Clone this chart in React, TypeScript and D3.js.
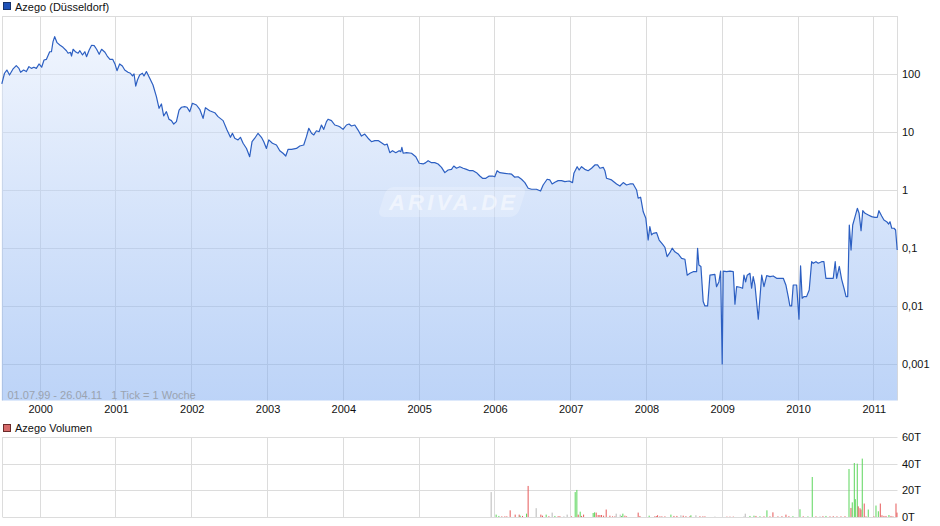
import React from "react";
import * as d3 from "d3";

// ---- DATA ----
// weekly closing prices (decimal year, price in EUR)
const priceSeries: [number, number][] = [
  [1999.5, 67.3], [1999.536, 103], [1999.567, 117], [1999.602, 96], [1999.646, 121], [1999.691, 139],
  [1999.726, 125], [1999.748, 107], [1999.788, 117], [1999.824, 110], [1999.858, 134], [1999.89, 125],
  [1999.924, 131], [1999.956, 125], [1999.991, 149], [2000.026, 131], [2000.057, 174], [2000.089, 179],
  [2000.132, 242], [2000.155, 242], [2000.176, 361], [2000.198, 440], [2000.229, 347], [2000.265, 316],
  [2000.308, 288], [2000.353, 252], [2000.375, 228], [2000.406, 237], [2000.42, 204], [2000.441, 267],
  [2000.477, 239], [2000.507, 228], [2000.53, 252], [2000.565, 213], [2000.596, 242], [2000.618, 199],
  [2000.653, 259], [2000.685, 313], [2000.719, 308], [2000.751, 267], [2000.785, 219], [2000.817, 267],
  [2000.861, 237], [2000.891, 204], [2000.927, 179], [2000.963, 179], [2000.993, 149],
  [2001.02, 114], [2001.055, 149], [2001.091, 137], [2001.122, 117], [2001.165, 107], [2001.197, 103],
  [2001.224, 92.5], [2001.245, 100], [2001.267, 62], [2001.29, 78.8], [2001.319, 96], [2001.355, 103],
  [2001.376, 92.5], [2001.408, 110], [2001.442, 89.8], [2001.452, 84.3], [2001.495, 64.6], [2001.54, 40.6],
  [2001.575, 25.6], [2001.606, 30.4], [2001.636, 18.9], [2001.672, 22.4], [2001.706, 16.6], [2001.738, 15.7],
  [2001.769, 13.7], [2001.804, 15.1], [2001.839, 23.9], [2001.871, 26.7], [2001.913, 27.3], [2001.944, 26.7],
  [2001.98, 22.4],
  [2002.015, 31.3], [2002.068, 29.2], [2002.112, 24.6], [2002.156, 17.2], [2002.187, 26.2], [2002.243, 23.3],
  [2002.31, 21.5], [2002.353, 18.4], [2002.42, 15.7], [2002.472, 10.8], [2002.517, 8.1], [2002.543, 9.5],
  [2002.574, 7.8], [2002.617, 7.3], [2002.649, 8.1], [2002.684, 6.4], [2002.729, 5.2], [2002.771, 3.75],
  [2002.802, 6.8], [2002.838, 7.8], [2002.881, 9.5], [2002.926, 8.1], [2002.957, 6.8], [2002.992, 5.2],
  [2003.023, 7.3], [2003.071, 6.4], [2003.124, 5.97], [2003.168, 4.76], [2003.211, 4.3], [2003.247, 3.85],
  [2003.278, 5.03], [2003.323, 5.03], [2003.388, 5.2], [2003.432, 5.74], [2003.484, 5.97], [2003.52, 8.3],
  [2003.551, 11.6], [2003.587, 9.5], [2003.617, 8.9], [2003.652, 10.5], [2003.686, 10.1], [2003.718, 13.2],
  [2003.748, 11.1], [2003.784, 15.1], [2003.805, 16.6], [2003.85, 15.7], [2003.894, 13.2], [2003.937, 12.7],
  [2003.959, 12.3],
  [2004.003, 11.1], [2004.048, 13.2], [2004.082, 13.7], [2004.114, 12.7], [2004.158, 13.2], [2004.201, 10.8],
  [2004.246, 8.5], [2004.289, 9.2], [2004.333, 7.8], [2004.378, 6.8], [2004.422, 7.1], [2004.466, 7.1],
  [2004.51, 6.5], [2004.553, 5.97], [2004.584, 6.2], [2004.62, 4.4], [2004.655, 4.76], [2004.699, 4.4],
  [2004.743, 4.76], [2004.765, 4.57], [2004.779, 5.45], [2004.796, 4.3], [2004.84, 4.4], [2004.906, 4.3],
  [2004.963, 3.75],
  [2005.007, 2.89], [2005.06, 2.81], [2005.094, 2.96], [2005.125, 3.2], [2005.17, 2.96], [2005.213, 2.96],
  [2005.257, 2.81], [2005.302, 2.46], [2005.346, 1.99], [2005.389, 2.21], [2005.434, 2.27], [2005.464, 2.59],
  [2005.5, 2.37], [2005.544, 2.52], [2005.588, 2.37], [2005.632, 2.27], [2005.675, 2.15], [2005.719, 2.15],
  [2005.764, 1.99], [2005.808, 1.74], [2005.843, 1.59], [2005.887, 1.59], [2005.931, 1.74], [2005.975, 1.74],
  [2006.005, 1.69], [2006.036, 2.15], [2006.072, 1.99], [2006.138, 1.94], [2006.227, 1.87], [2006.269, 1.66],
  [2006.313, 1.69], [2006.358, 1.53], [2006.402, 1.34], [2006.446, 1.07], [2006.49, 1.03], [2006.555, 1.03],
  [2006.609, 0.96], [2006.643, 1.22], [2006.696, 1.53], [2006.732, 1.49], [2006.762, 1.27], [2006.798, 1.36],
  [2006.841, 1.45], [2006.886, 1.45], [2006.93, 1.39], [2006.986, 1.43],
  [2007.031, 1.34], [2007.049, 1.94], [2007.092, 2.52], [2007.118, 2.21], [2007.15, 2.52], [2007.193, 2.27],
  [2007.237, 2.15], [2007.282, 2.37], [2007.326, 2.7], [2007.361, 2.7], [2007.392, 2.37], [2007.436, 2.46],
  [2007.458, 2.15], [2007.48, 1.59], [2007.546, 1.49], [2007.612, 1.27], [2007.656, 1.17], [2007.7, 1.34],
  [2007.744, 1.22], [2007.787, 1.27], [2007.831, 1.27], [2007.876, 1.0], [2007.897, 0.72], [2007.929, 0.75],
  [2007.964, 0.42], [2007.998, 0.325],
  [2008.029, 0.137], [2008.051, 0.233], [2008.074, 0.168], [2008.095, 0.179], [2008.14, 0.184], [2008.174, 0.137],
  [2008.218, 0.117], [2008.249, 0.103], [2008.279, 0.071], [2008.315, 0.083], [2008.346, 0.099], [2008.381, 0.086],
  [2008.425, 0.079], [2008.47, 0.066], [2008.514, 0.064], [2008.544, 0.034], [2008.58, 0.0366], [2008.623, 0.039],
  [2008.668, 0.039], [2008.681, 0.099], [2008.698, 0.051], [2008.725, 0.048], [2008.755, 0.0119], [2008.778, 0.01],
  [2008.813, 0.01], [2008.844, 0.034], [2008.909, 0.035], [2008.931, 0.0215], [2008.962, 0.026], [2008.985, 0.04],
  [2009.006, 0.001], [2009.019, 0.04], [2009.064, 0.039], [2009.108, 0.04], [2009.152, 0.039], [2009.174, 0.0107],
  [2009.196, 0.0215], [2009.239, 0.021], [2009.275, 0.0202], [2009.293, 0.034], [2009.315, 0.026], [2009.336, 0.034],
  [2009.372, 0.0366], [2009.394, 0.0202], [2009.415, 0.032], [2009.438, 0.023], [2009.482, 0.0059], [2009.527, 0.034],
  [2009.557, 0.0215], [2009.593, 0.0333], [2009.636, 0.032], [2009.679, 0.0329], [2009.724, 0.03], [2009.812, 0.03],
  [2009.846, 0.023], [2009.877, 0.0145], [2009.899, 0.01], [2009.922, 0.01], [2009.943, 0.023], [2009.988, 0.023],
  [2010.019, 0.0059], [2010.04, 0.049], [2010.061, 0.0136], [2010.084, 0.0145], [2010.119, 0.0145], [2010.154, 0.0189],
  [2010.186, 0.058], [2010.207, 0.0545], [2010.243, 0.058], [2010.273, 0.0545], [2010.318, 0.058], [2010.348, 0.058],
  [2010.374, 0.03], [2010.427, 0.03], [2010.471, 0.03], [2010.497, 0.058], [2010.516, 0.03], [2010.551, 0.048],
  [2010.582, 0.0288], [2010.613, 0.0202], [2010.64, 0.0145], [2010.662, 0.0145], [2010.683, 0.249], [2010.706, 0.092],
  [2010.728, 0.249], [2010.759, 0.347], [2010.789, 0.483], [2010.812, 0.396], [2010.838, 0.199], [2010.861, 0.44],
  [2010.891, 0.396], [2010.934, 0.371], [2010.978, 0.347],
  [2011.021, 0.338], [2011.052, 0.338], [2011.074, 0.44], [2011.11, 0.356], [2011.14, 0.304], [2011.176, 0.284],
  [2011.202, 0.259], [2011.22, 0.284], [2011.243, 0.219], [2011.273, 0.219], [2011.294, 0.204], [2011.315, 0.092],
];

// weekly volume (decimal year, volume in thousands, direction u=up d=down n=unchanged)
const volumeSeries: [number, number, string][] = [
  [2005.957, 18.7, "n"], [2006.023, 1.8, "u"], [2006.059, 0.8, "u"], [2006.098, 0.5, "d"], [2006.138, 0.5, "d"],
  [2006.164, 0.5, "d"], [2006.208, 5, "d"], [2006.274, 1.8, "d"], [2006.327, 1.8, "d"], [2006.34, 1, "u"],
  [2006.371, 0.8, "d"], [2006.424, 2.5, "u"], [2006.445, 23.3, "d"], [2006.551, 6.6, "n"], [2006.613, 1.8, "d"],
  [2006.635, 1, "d"], [2006.683, 1.8, "u"], [2006.719, 0.6, "d"], [2006.762, 3.3, "n"], [2006.798, 0.8, "u"],
  [2006.841, 0.6, "d"], [2006.864, 0.6, "d"], [2006.917, 0.5, "n"], [2006.96, 1.8, "n"], [2007.018, 0.5, "d"],
  [2007.066, 18.7, "u"], [2007.088, 20.3, "u"], [2007.106, 1.8, "d"], [2007.132, 4, "u"], [2007.15, 0.8, "d"],
  [2007.177, 1.8, "d"], [2007.303, 3, "u"], [2007.322, 3.5, "u"], [2007.343, 3.3, "d"], [2007.369, 1.5, "d"],
  [2007.392, 1.5, "d"], [2007.414, 1.5, "d"], [2007.441, 1, "d"], [2007.475, 5.6, "d"], [2007.524, 1, "d"],
  [2007.559, 0.5, "d"], [2007.59, 0.5, "d"], [2007.607, 2.5, "n"], [2007.66, 1.8, "n"], [2007.678, 0.8, "u"],
  [2007.695, 2.5, "u"], [2007.722, 1, "d"], [2007.744, 0.5, "d"], [2007.897, 3.3, "d"], [2007.92, 0.8, "d"],
  [2008.042, 1, "u"], [2008.118, 0.6, "d"], [2008.14, 0.6, "d"], [2008.153, 1.3, "d"], [2008.184, 0.5, "d"],
  [2008.21, 0.5, "d"], [2008.25, 0.5, "d"], [2008.329, 1.8, "u"], [2008.369, 0.8, "d"], [2008.408, 0.8, "d"],
  [2008.461, 1.3, "n"], [2008.491, 1, "d"], [2008.527, 0.6, "d"], [2008.58, 0.6, "d"], [2008.593, 1.3, "u"],
  [2008.659, 1.3, "n"], [2008.712, 0.6, "d"], [2008.751, 0.5, "d"], [2008.778, 0.5, "d"], [2008.91, 0.3, "n"],
  [2009.068, 0.3, "d"], [2009.108, 0.3, "d"], [2009.152, 0.3, "d"], [2009.293, 0.4, "n"], [2009.31, 2.5, "n"],
  [2009.372, 0.8, "u"], [2009.425, 1, "u"], [2009.451, 0.8, "d"], [2009.504, 0.6, "u"], [2009.557, 0.5, "d"],
  [2009.596, 5, "u"], [2009.636, 0.5, "d"], [2009.675, 3.5, "d"], [2009.741, 0.5, "d"], [2009.794, 0.6, "d"],
  [2009.847, 1.8, "d"], [2009.886, 0.6, "d"], [2009.939, 0.6, "u"], [2010.032, 5.8, "u"], [2010.075, 0.5, "d"],
  [2010.137, 0.5, "u"], [2010.194, 30, "u"], [2010.243, 0.5, "d"], [2010.296, 0.5, "n"], [2010.335, 0.6, "d"],
  [2010.375, 0.8, "u"], [2010.428, 0.5, "d"], [2010.471, 0.6, "d"], [2010.52, 0.5, "d"], [2010.573, 0.5, "d"],
  [2010.626, 0.6, "d"], [2010.679, 36, "u"], [2010.705, 6.8, "d"], [2010.722, 11, "u"], [2010.749, 40.5, "u"],
  [2010.762, 13.4, "u"], [2010.788, 40, "u"], [2010.801, 8, "d"], [2010.824, 6.6, "d"], [2010.837, 5.6, "d"],
  [2010.854, 43.8, "u"], [2010.88, 10.1, "d"], [2010.903, 0.5, "d"], [2010.933, 5.6, "u"], [2011.008, 0.5, "d"],
  [2011.035, 8.6, "u"], [2011.066, 4.3, "u"], [2011.092, 10.1, "d"], [2011.114, 1.3, "d"], [2011.14, 0.8, "d"],
  [2011.167, 0.8, "d"], [2011.206, 1.5, "u"], [2011.233, 0.8, "d"], [2011.259, 0.5, "d"], [2011.299, 10.1, "d"],
  [2011.312, 3.3, "d"],
];

const yearTicks = [2000, 2001, 2002, 2003, 2004, 2005, 2006, 2007, 2008, 2009, 2010, 2011];
const priceTicks = [100, 10, 1, 0.1, 0.01, 0.001];
const priceTickLabels = ["100", "10", "1", "0,1", "0,01", "0,001"];
const volumeTicks = [60, 40, 20, 0];
const volumeTickLabels = ["60T", "40T", "20T", "0T"];
const dateRange: [number, number] = [1999.5, 2011.315];

const FONT = "'Liberation Sans', Arial, sans-serif";

export default function App() {
  const W = 940, H = 526;
  const left = 2.5, right = 897.5;
  const mTop = 16, mBottom = 400.5;
  const vTop = 437, vBottom = 517;

  const x = d3.scaleLinear().domain(dateRange).range([1.8, 897.2]);
  const y = d3.scaleLog().domain([Math.pow(10, -3.63), 1000]).range([mBottom, mTop]);
  const yv = d3.scaleLinear().domain([0, 60]).range([vBottom, vTop]);

  const line = d3.line<[number, number]>().x(d => x(d[0])).y(d => y(d[1]));
  const area = d3.area<[number, number]>().x(d => x(d[0])).y0(mBottom).y1(d => y(d[1]));

  const grid = "#dcdcdc";
  const volColor: Record<string, string> = { u: "#5cd65c", d: "#e65a5a", n: "#b8b8b8" };

  return (
    <svg width={W} height={H} style={{ position: "absolute", left: 0, top: 0, display: "block" }} fontFamily={FONT}>
      <defs>
        <linearGradient id="fillGrad" gradientUnits="userSpaceOnUse" x1="0" y1={mTop} x2="0" y2={mBottom}>
          <stop offset="0" stopColor="#e9f0fd" stopOpacity={0.55} />
          <stop offset="1" stopColor="#7aa8f0" stopOpacity={0.5} />
        </linearGradient>
      </defs>
      <rect width={W} height={H} fill="#fff" />

      {/* main legend */}
      <rect x={3.5} y={2.5} width={7} height={7} fill="#1f52b8" stroke="#17336b" strokeWidth={1} />
      <text x={15} y={10.5} fontSize={11} fill="#111">Azego (Düsseldorf)</text>

      {/* main grid */}
      {priceTicks.map(t => (
        <line key={"h" + t} x1={left} x2={right} y1={Math.round(y(t)) + 0.5} y2={Math.round(y(t)) + 0.5} stroke={grid} />
      ))}
      {yearTicks.map(t => (
        <line key={"v" + t} x1={Math.round(x(t)) + 0.5} x2={Math.round(x(t)) + 0.5} y1={mTop} y2={mBottom} stroke={grid} />
      ))}
      <line x1={left} x2={right} y1={mTop + 0.5} y2={mTop + 0.5} stroke={grid} />
      <line x1={left} x2={left} y1={mTop} y2={mBottom} stroke={grid} />
      <line x1={right} x2={right} y1={mTop} y2={mBottom} stroke={grid} />

      {/* area & line */}
      <path d={area(priceSeries) || ""} fill="url(#fillGrad)" />

      {/* watermark */}
      <g transform="translate(452,202)">
        <rect x={-70} y={-15} width={140} height={30} rx={7} fill="#ffffff" opacity={0.22} transform="skewX(-18)" />
        <text x={0} y={8} textAnchor="middle" fontSize={22} fontWeight="bold" fontStyle="italic" fill="#ffffff" opacity={0.5}
          textLength={126} lengthAdjust="spacing">ARIVA.DE</text>
      </g>

      <path d={line(priceSeries) || ""} fill="none" stroke="#2c5fc2" strokeWidth={1.2} strokeLinejoin="round" />

      {/* date range note */}
      <text x={7.5} y={399} fontSize={11} fill="#9aa3b0" style={{ whiteSpace: "pre" }} xmlSpace="preserve">{"01.07.99 - 26.04.11   1 Tick = 1 Woche"}</text>

      {/* y labels */}
      {priceTicks.map((t, i) => (
        <text key={"yl" + t} x={902} y={y(t) + 4} fontSize={11} fill="#111">{priceTickLabels[i]}</text>
      ))}
      {/* x labels */}
      {yearTicks.map(t => (
        <text key={"xl" + t} x={x(t) + 1} y={413} fontSize={11} textAnchor="middle" fill="#111">{t}</text>
      ))}

      {/* volume legend */}
      <rect x={3.5} y={424.5} width={7} height={7} fill="#d66a6a" stroke="#6b2a2a" strokeWidth={1} />
      <text x={15} y={432} fontSize={11} fill="#111">Azego Volumen</text>

      {/* volume grid */}
      {volumeTicks.map(t => (
        <line key={"vh" + t} x1={left} x2={right} y1={Math.round(yv(t)) + 0.5} y2={Math.round(yv(t)) + 0.5} stroke={grid} />
      ))}
      {yearTicks.map(t => (
        <line key={"vv" + t} x1={Math.round(x(t)) + 0.5} x2={Math.round(x(t)) + 0.5} y1={vTop} y2={vBottom} stroke={grid} />
      ))}
      <line x1={left} x2={left} y1={vTop} y2={vBottom} stroke={grid} />

      {/* volume bars */}
      {volumeSeries.map((d, i) => (
        <rect key={"b" + i} x={x(d[0]) - 0.5} width={1} y={yv(d[1])} height={vBottom - yv(d[1])} fill={volColor[d[2]]} />
      ))}

      {volumeTicks.map((t, i) => (
        <text key={"vl" + t} x={902} y={yv(t) + 4} fontSize={11} fill="#111">{volumeTickLabels[i]}</text>
      ))}
    </svg>
  );
}
